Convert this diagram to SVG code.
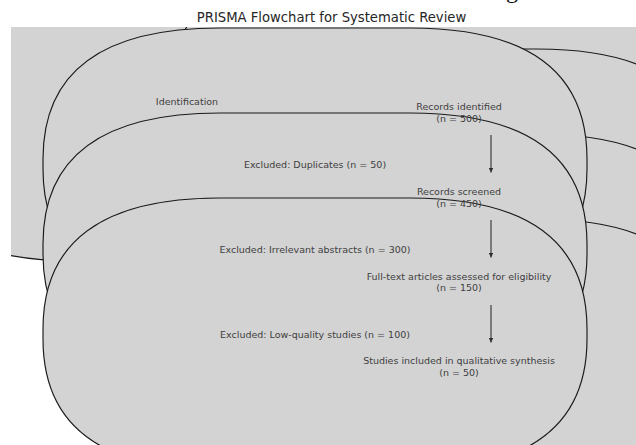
<svg xmlns="http://www.w3.org/2000/svg" xmlns:xlink="http://www.w3.org/1999/xlink" width="636" height="445" viewBox="0 0 636 445">
  <style>
    .box { fill: #d3d3d3; stroke: #1a1a1a; stroke-width: 1.15; }
    .lbl { font-family: "DejaVu Sans", "Liberation Sans", sans-serif; font-size: 9.5px; fill: #404040; text-anchor: middle; }
    .title { font-family: "DejaVu Sans", "Liberation Sans", sans-serif; font-size: 13.2px; fill: #262626; text-anchor: middle; }
    .arrow { stroke: #404040; stroke-width: 1.2; fill: none; }
  </style>
  <defs>
    <path id="rbox" d="M177,0 H367 Q544,0 544,131 V141 Q544,272 367,272 H177 Q0,272 0,141 V131 Q0,0 177,0 Z"/>
    <clipPath id="axclip">
      <rect x="11" y="27" width="625" height="418"/>
    </clipPath>
    <marker id="ah" viewBox="0 0 8 8" refX="8" refY="4" markerWidth="4.5" markerHeight="4.5" orient="auto" markerUnits="userSpaceOnUse">
      <path d="M0,0 L8,4 L0,8 Z" fill="#303030"/>
    </marker>
  </defs>
  <rect width="636" height="445" fill="#ffffff"/>
  <text x="512" y="-2" font-family="Liberation Serif, serif" font-size="24" fill="#111" text-anchor="middle">g</text>
  <text class="title" x="331.5" y="21.5">PRISMA Flowchart for Systematic Review</text>

  <g id="boxes" clip-path="url(#axclip)">
    <g id="box-identification"><use xlink:href="#rbox" class="box" x="-102" y="-11"/></g>
    <g id="box-records-identified"><use xlink:href="#rbox" class="box" x="170" y="-36"/></g>
    <g id="box-records-screened"><use xlink:href="#rbox" class="box" x="170" y="49"/></g>
    <g id="box-fulltext"><use xlink:href="#rbox" class="box" x="170" y="134"/></g>
    <g id="box-included"><use xlink:href="#rbox" class="box" x="170" y="219"/></g>
    <g id="box-excl-duplicates"><use xlink:href="#rbox" class="box" x="43" y="28"/></g>
    <g id="box-excl-abstracts"><use xlink:href="#rbox" class="box" x="43" y="113"/></g>
    <g id="box-excl-lowquality"><use xlink:href="#rbox" class="box" x="43" y="198"/></g>
  </g>

  <g id="connectors">
    <line class="arrow" x1="491" y1="135" x2="491" y2="172.5" marker-end="url(#ah)"/>
    <line class="arrow" x1="491" y1="220" x2="491" y2="257.5" marker-end="url(#ah)"/>
    <line class="arrow" x1="491" y1="305" x2="491" y2="342.5" marker-end="url(#ah)"/>
  </g>

  <g id="node-identification"><text class="lbl" x="187" y="105">Identification</text></g>
  <g id="node-records-identified">
    <text class="lbl" x="459" y="110">Records identified</text>
    <text class="lbl" x="459" y="121.5">(n = 500)</text>
  </g>
  <g id="node-excl-duplicates"><text class="lbl" x="315" y="168">Excluded: Duplicates (n = 50)</text></g>
  <g id="node-records-screened">
    <text class="lbl" x="459" y="195">Records screened</text>
    <text class="lbl" x="459" y="206.5">(n = 450)</text>
  </g>
  <g id="node-excl-abstracts"><text class="lbl" x="315" y="253">Excluded: Irrelevant abstracts (n = 300)</text></g>
  <g id="node-fulltext">
    <text class="lbl" x="459" y="279.5">Full-text articles assessed for eligibility</text>
    <text class="lbl" x="459" y="291">(n = 150)</text>
  </g>
  <g id="node-excl-lowquality"><text class="lbl" x="315" y="338">Excluded: Low-quality studies (n = 100)</text></g>
  <g id="node-included">
    <text class="lbl" x="459" y="364">Studies included in qualitative synthesis</text>
    <text class="lbl" x="459" y="375.5">(n = 50)</text>
  </g>
</svg>
